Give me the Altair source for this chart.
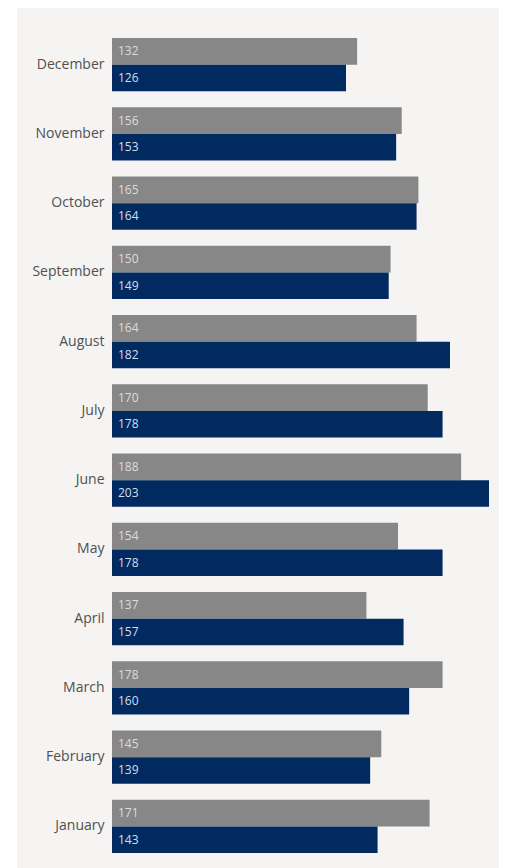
import altair as alt
import pandas as pd

months = ["January", "February", "March", "April", "May", "June",
          "July", "August", "September", "October", "November", "December"]
prior = [171, 145, 178, 137, 154, 188, 170, 164, 150, 165, 156, 132]
current = [143, 139, 160, 157, 178, 203, 178, 182, 149, 164, 153, 126]
series_names = ["Prior", "Current"]

rows = []
for m, p, c in zip(months, prior, current):
    rows.append({"month": m, "series": "Prior", "value": p})
    rows.append({"month": m, "series": "Current", "value": c})
df = pd.DataFrame(rows)

W, H = 377, 831
order = list(reversed(months))

y_enc = alt.Y("month:N", sort=order,
              scale=alt.Scale(paddingInner=0.23, paddingOuter=0.115),
              axis=alt.Axis(title=None, domain=False, ticks=False,
                            labelFontSize=14, labelColor="#505050",
                            labelFont="Open Sans", labelPadding=8, zindex=2))
yoff = alt.YOffset("series:N", sort=series_names,
                   scale=alt.Scale(paddingInner=0, paddingOuter=0))

bg = alt.Chart(pd.DataFrame({"a": [0]})).mark_rect(color="#f5f4f2").encode(
    x=alt.value(-95), x2=alt.value(W + 10),
    y=alt.value(-30), y2=alt.value(H + 30))

bars = alt.Chart(df).mark_bar().encode(
    y=y_enc, yOffset=yoff,
    x=alt.X("value:Q", scale=alt.Scale(domain=[0, 203], nice=False), axis=None),
    color=alt.Color("series:N", sort=series_names,
                    scale=alt.Scale(domain=series_names, range=["#878787", "#012a60"]),
                    legend=None))

labels = alt.Chart(df).mark_text(align="left", baseline="middle", dx=6,
                                 fontSize=12, font="Open Sans").encode(
    y=alt.Y("month:N", sort=order), yOffset=alt.YOffset("series:N", sort=series_names),
    x=alt.datum(0),
    text="value:Q",
    color=alt.Color("series:N", sort=series_names,
                    scale=alt.Scale(domain=series_names, range=["#dcdcdc", "#d3def0"]),
                    legend=None))

chart = alt.layer(bg, bars, labels).resolve_scale(color="independent").properties(
    width=W, height=H, autosize="none",
    padding={"left": 104, "top": 22, "right": 10, "bottom": 20},
    background="white"
).configure_view(stroke=None)

chart.save("out.html", embed_options={"renderer": "svg", "actions": False})
